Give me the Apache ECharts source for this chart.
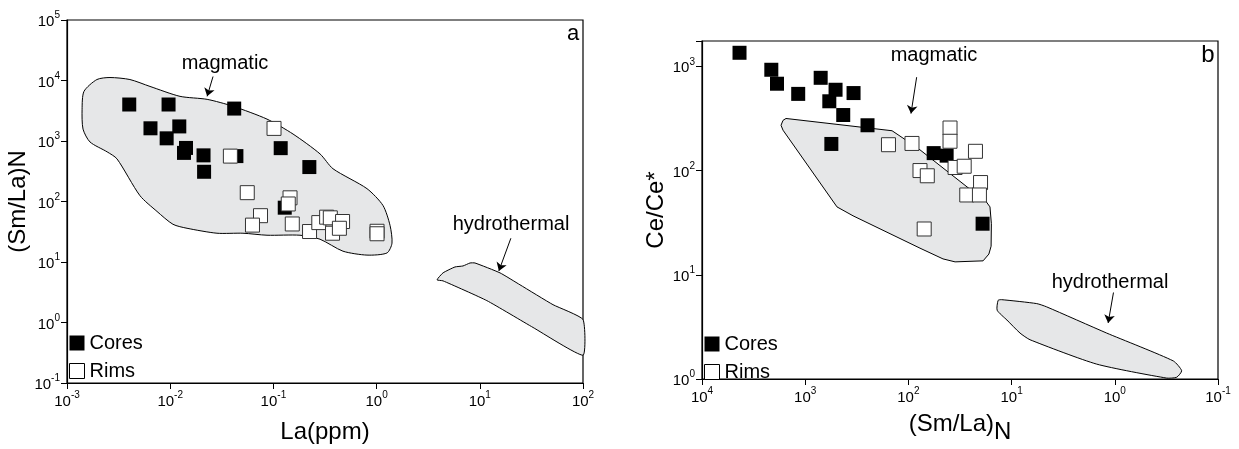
<!DOCTYPE html>
<html>
<head>
<meta charset="utf-8">
<script src="https://cdn.jsdelivr.net/npm/echarts@6/dist/echarts.min.js"></script>
<style>
    html, body { margin: 0; padding: 0; background: #fff; }
    #main { width: 1239px; height: 449px; }
</style>
</head>
<body>
<div id="main"></div>
<script>
// panel a : La(ppm) vs (Sm/La)N
var coresA = [[0.00401, 4010], [0.00964, 4010], [0.0417, 3436], [0.00644, 1622], [0.01225, 1742], [0.00924, 1107],
    [0.01423, 768], [0.0136, 636], [0.02104, 579], [0.0213, 310], [0.0438, 563], [0.1177, 762], [0.223, 371], [0.1288, 79]];
var rimsA = [[0.0383, 563], [0.1014, 1615], [0.0558, 140], [0.1449, 115], [0.1393, 91], [0.075, 58.3], [0.0627, 40.7],
    [0.1524, 42.5], [0.224, 31.9], [0.2754, 44.8], [0.328, 55.1], [0.356, 53.7], [0.468, 46.7], [0.374, 29.9],
    [0.436, 36.1], [1.01, 32.2], [1.01, 29.3]];
var magmaticA = [[0.00195, 10380], [0.00261, 11200], [0.00407, 10380], [0.00637, 7980], [0.01245, 5470], [0.0228, 4880],
    [0.0406, 3750], [0.0867, 2300], [0.155, 1303], [0.283, 612], [0.378, 348], [0.807, 163], [1.153, 86], [1.349, 40.4],
    [1.41, 20.5], [1.26, 14.1], [0.807, 13.0], [0.472, 15.1], [0.283, 23.8], [0.181, 27.7], [0.0867, 27.7], [0.0507, 29.9],
    [0.0284, 29.9], [0.01456, 36.1], [0.01064, 42.0], [0.00745, 68.5], [0.00509, 125], [0.00305, 507], [0.00245, 661],
    [0.00167, 964], [0.00143, 1573], [0.00140, 3350], [0.00146, 6600]];
var hydroA = [[3.85, 5.07], [4.40, 6.61], [5.75, 8.28], [6.87, 8.60], [8.04, 9.63], [8.98, 9.63], [15.7, 6.61], [24.5, 4.20],
    [51.2, 1.97], [100, 1.12], [100, 0.288], [32.8, 0.828], [11.7, 2.30], [4.40, 4.88]];
var arrowsA = [[[0.026, 11640], [0.0228, 5470]], [[20.0, 24.7], [15.3, 7.12]]];

// panel b : (Sm/La)N vs Ce/Ce*
var coresB = [[4330, 1349], [2130, 927], [1876, 681], [1169, 544], [708, 776], [508, 596], [584, 462], [340, 554],
    [428, 341], [249, 272], [558, 180], [56.9, 147], [42.6, 139], [19.1, 30.9]];
var rimsB = [[156, 177], [92.3, 182], [77.2, 100], [65.6, 89.1], [70.3, 27.5], [39.5, 256], [39.5, 191], [35.3, 107],
    [28.8, 110], [22.4, 153], [20.0, 76.7], [27.2, 58.3], [20.5, 58.3]];
var magmaticB = [[1535, 316], [144, 241], [113, 205], [77.2, 158], [25.3, 66.2], [18.1, 52.1], [16.2, 44.8], [15.7, 30.9],
    [15.8, 18.8], [16.6, 15.8], [18.9, 13.6], [35.3, 13.3], [46.2, 14.2], [77.2, 18.0], [344, 36.8], [492, 44.8],
    [1641, 244], [1715, 272], [1641, 303]];
var hydroB = [[13.5, 5.69], [12.5, 5.77], [5.71, 5.29], [4.57, 4.92], [1.20, 2.76], [0.271, 1.49], [0.225, 1.20],
    [0.251, 1.04], [0.314, 1.02], [1.50, 1.39], [6.63, 2.38], [8.29, 2.76], [11.1, 3.68], [13.8, 4.57]];
var arrowsB = [[[83.2, 787], [94.4, 352]], [[1.03, 6.76], [1.16, 3.45]]];

var FONT = 'Liberation Sans, Arial, sans-serif';

function powLabel(v)
{
    var lg = Math.log10(v);
    var e = Math.round(lg);
    if (Math.abs(lg - e) > 0.01) return '';
    return '{b|10}{s|' + e + '}';
}

var labelRich = {
    b: { fontSize: 15, fontFamily: FONT, color: '#000', lineHeight: 19, verticalAlign: 'bottom' },
    s: { fontSize: 10, fontFamily: FONT, color: '#000', lineHeight: 12, verticalAlign: 'top' }
};

function logAxis(idx, min, max, split, extra)
{
    var ax = {
        type: 'log',
        logBase: 10,
        gridIndex: idx,
        min: min,
        max: max,
        splitNumber: split,
        axisLine: { lineStyle: { color: '#000', width: 1.2 } },
        axisTick: { inside: false, length: 6, lineStyle: { color: '#000', width: 1 } },
        minorTick: { show: false },
        splitLine: { show: false },
        axisLabel: { formatter: powLabel, rich: labelRich, margin: 7, showMaxLabel: true },
        nameLocation: 'middle',
        nameTextStyle: { fontSize: 24, fontFamily: FONT, color: '#000' }
    };
    for (var k in extra) ax[k] = extra[k];
    return ax;
}

function polyRender(pts, smooth)
{
    return function (params, api) {
        if (params.dataIndex !== 0) return;
        var points = [];
        for (var i = 0; i < pts.length; i++) points.push(api.coord(pts[i]));
        return {
            type: 'polygon',
            shape: { points: points, smooth: smooth },
            style: { fill: '#e6e7e8', stroke: '#000', lineWidth: 1 }
        };
    };
}

function polySeries(idx, pts, smooth)
{
    return {
        type: 'custom',
        xAxisIndex: idx,
        yAxisIndex: idx,
        renderItem: polyRender(pts, smooth),
        data: pts,
        silent: true,
        z: 1,
        animation: false
    };
}

function arrowLines(arr)
{
    var out = [];
    for (var i = 0; i < arr.length; i++) out.push([{ coord: arr[i][0] }, { coord: arr[i][1] }]);
    return out;
}

function markSeries(name, idx, data, filled, arrows)
{
    var s = {
        name: name,
        type: 'scatter',
        xAxisIndex: idx,
        yAxisIndex: idx,
        symbol: 'rect',
        symbolSize: 14,
        data: data,
        z: filled ? 2 : 3,
        animation: false,
        itemStyle: filled ? { color: '#000', opacity: 1 } : { color: '#fff', borderColor: '#333', borderWidth: 1, opacity: 1 }
    };
    if (arrows) {
        s.markLine = {
            silent: true,
            animation: false,
            symbol: ['none', 'arrow'],
            symbolSize: 8,
            label: { show: false },
            lineStyle: { color: '#000', width: 1, type: 'solid' },
            data: arrowLines(arrows)
        };
    }
    return s;
}

function legendFor(left, top)
{
    return {
        orient: 'vertical',
        left: left,
        top: top,
        padding: 0,
        itemWidth: 15,
        itemHeight: 15,
        itemGap: 8,
        icon: 'rect',
        textStyle: { fontSize: 20, fontFamily: FONT, color: '#000', lineHeight: 15 },
        data: [
            { name: 'Cores', itemStyle: { color: '#000' } },
            { name: 'Rims', itemStyle: { color: '#fff', borderColor: '#000', borderWidth: 1 } }
        ]
    };
}

function note(text, x, y, size)
{
    return {
        type: 'text', x: x, y: y,
        style: { text: text, fontSize: size, fontFamily: FONT, fill: '#000', align: 'center', verticalAlign: 'middle' }
    };
}

var myChart = echarts.init(document.getElementById('main'));
myChart.setOption({
    animation: false,
    backgroundColor: '#fff',
    grid: [
        { left: 67, top: 20, width: 516, height: 366, show: true, borderColor: '#000', borderWidth: 1.2 },
        { left: 702, top: 41, width: 516, height: 344, show: true, borderColor: '#000', borderWidth: 1.2 }
    ],
    xAxis: [
        logAxis(0, 0.001, 100, 5, { name: 'La(ppm)', nameGap: 37 }),
        logAxis(1, 0.1, 10000, 5, {
            inverse: true,
            name: '{a|(Sm/La)}{n|N}',
            nameGap: 33,
            nameTextStyle: {
                rich: {
                    a: { fontSize: 24, fontFamily: FONT, color: '#000', lineHeight: 24, verticalAlign: 'top' },
                    n: { fontSize: 24, fontFamily: FONT, color: '#000', lineHeight: 32, verticalAlign: 'bottom' }
                }
            }
        })
    ],
    yAxis: [
        logAxis(0, 0.1, 100000, 6, { name: '(Sm/La)N', nameGap: 34 }),
        logAxis(1, 1, 1750, 3, { name: 'Ce/Ce*', nameGap: 32 })
    ],
    legend: [legendFor(69, 333), legendFor(704, 334)],
    series: [
        polySeries(0, magmaticA, 0.25),
        polySeries(0, hydroA, 0.15),
        polySeries(1, magmaticB, 0),
        polySeries(1, hydroB, 0.2),
        markSeries('Cores', 0, coresA, true, arrowsA),
        markSeries('Rims', 0, rimsA, false),
        markSeries('Cores', 1, coresB, true, arrowsB),
        markSeries('Rims', 1, rimsB, false)
    ],
    graphic: [
        note('a', 573, 34, 22),
        note('b', 1208, 55, 24),
        note('magmatic', 225, 63, 20),
        note('hydrothermal', 511, 224, 20),
        note('magmatic', 934, 55, 20),
        note('hydrothermal', 1110, 282, 20)
    ]
});
</script>
</body>
</html>
